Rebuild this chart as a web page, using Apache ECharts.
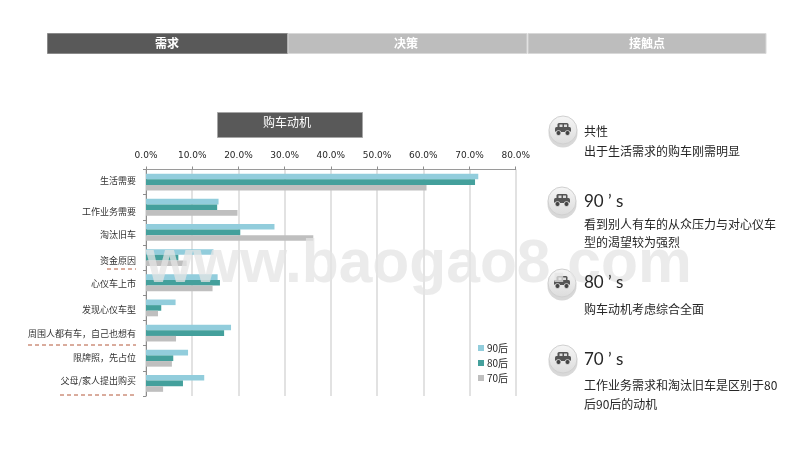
<!DOCTYPE html>
<html><head><meta charset="utf-8">
<style>html,body{margin:0;padding:0;background:#fff}#c{width:800px;height:450px}</style>
<script src="https://cdn.jsdelivr.net/npm/echarts@6/dist/echarts.min.js"></script>
</head><body><div id="c"></div>
<script>
const categories = ['生活需要','工作业务需要','淘汰旧车','资金原因','心仪车上市','发现心仪车型','周围人都有车，自己也想有','限牌照，先占位','父母/家人提出购买'];
const series90 = [71.9,15.7,27.8,14.6,15.5,6.4,18.4,9.1,12.6];
const series80 = [71.2,15.4,20.4,7.0,16.0,3.3,16.9,5.9,8.0];
const series70 = [60.7,19.8,36.2,8.8,14.4,2.6,6.5,5.6,3.7];
const tabs = ['需求','决策','接触点'];
const chartTitle = '购车动机';
const labelNudge = [-2,4,2,3,1,2,0,-1,-3];
const FONT = '"Noto Sans CJK SC","DejaVu Sans",sans-serif';
const TXT = '#262626';

function rect(x,y,w,h,fill,stroke){return {type:'rect',shape:{x,y,width:w,height:h},style:{fill,stroke:stroke||null,lineWidth:stroke?1:0},z:5};}
function txt(x,y,t,size,color,extra){return {type:'text',x,y,z:6,style:Object.assign({text:t,fill:color||TXT,font:size+'px '+FONT,textVerticalAlign:'middle',textAlign:'left'},extra||{})};}
function dash(x1,x2,y){return {type:'line',shape:{x1,y1:y,x2,y2:y},style:{stroke:'#b4583a',lineWidth:1,lineDash:[4,3]},z:6};}
function icon(cx,cy){
  return {type:'group',x:cx,y:cy,z:7,children:[
    {type:'circle',shape:{cx:0,cy:3,r:14.5},style:{fill:'#c8c8c8',opacity:.7}},
    {type:'circle',shape:{cx:0,cy:0,r:14},style:{fill:{type:'linear',x:0,y:0,x2:0,y2:1,colorStops:[{offset:0,color:'#f6f6f6'},{offset:1,color:'#dcdcdc'}]},stroke:'#d0d0d0',lineWidth:1}},
    {type:'rect',shape:{x:-8,y:-3,width:16,height:5,r:1.5},style:{fill:'#555'}},
    {type:'rect',shape:{x:-5.5,y:-7,width:11,height:5,r:1.5},style:{fill:'#555'}},
    {type:'rect',shape:{x:-3.5,y:-5.5,width:3,height:2.5},style:{fill:'#ddd'}},
    {type:'rect',shape:{x:1,y:-5.5,width:3,height:2.5},style:{fill:'#ddd'}},
    {type:'circle',shape:{cx:-4.5,cy:3,r:2.5},style:{fill:'#444',stroke:'#e6e6e6',lineWidth:.8}},
    {type:'circle',shape:{cx:4.5,cy:3,r:2.5},style:{fill:'#444',stroke:'#e6e6e6',lineWidth:.8}}
  ]};
}
function big(x,y,t){return {type:'text',x,y,z:6,style:{text:t,fill:TXT,font:'17px Lato,"Open Sans",sans-serif',textVerticalAlign:'middle'}};}

const labelRich = {};
labelNudge.forEach((n,i)=>{
  labelRich['n'+i] = {fontSize:9,color:'#333',fontFamily:FONT,padding:n>=0?[2*n,0,0,0]:[0,0,-2*n,0]};
});

const chart = echarts.init(document.getElementById('c'),null,{renderer:'canvas'});
function bar(name,data,color){
  return {name,type:'bar',data,barWidth:5.6,barGap:'0%',itemStyle:{color},z:2};
}
chart.setOption({
  animation:false,
  backgroundColor:'#fff',
  grid:{left:146,right:284.3,top:169.5,bottom:54},
  xAxis:{type:'value',position:'top',min:0,max:80,interval:10,
    axisLine:{show:true,lineStyle:{color:'#9a9a9a',width:1}},
    axisTick:{show:true,length:3,lineStyle:{color:'#8c8c8c'}},
    splitLine:{show:true,lineStyle:{color:'#d9d9d9',width:1.5}},
    axisLabel:{formatter:v=>v.toFixed(1)+'%',color:'#262626',fontSize:9,margin:9,fontFamily:'"DejaVu Sans"'}},
  yAxis:{type:'category',inverse:true,data:categories,
    axisLine:{show:true,onZero:false,lineStyle:{color:'#8c8c8c',width:1}},
    axisTick:{show:true,length:3,lineStyle:{color:'#8c8c8c'}},
    axisLabel:{color:'#333',fontSize:9,margin:10,fontFamily:FONT,interval:0,
      formatter:(v,i)=>'{n'+i+'|'+v+'}',rich:labelRich}},
  legend:{orient:'vertical',left:473,top:338,itemWidth:6,itemHeight:6,itemGap:5,icon:'rect',
    textStyle:{fontSize:10,color:'#262626',padding:[0,0,0,-2],fontFamily:FONT},
    data:['90后','80后','70后']},
  series:[bar('90后',series90,'#92cddc'),bar('80后',series80,'#44a09c'),bar('70后',series70,'#bfbfbf')],
  graphic:[
    rect(47.5,33.5,240,20,'#595959','#8a8a8a'),
    rect(288,33.5,239,20,'#bdbdbd','#d8d8d8'),
    rect(528,33.5,238,20,'#bdbdbd','#d8d8d8'),
    txt(167,43.5,tabs[0],12,'#fff',{textAlign:'center',font:'bold 12px '+FONT}),
    txt(406,43.5,tabs[1],12,'#fff',{textAlign:'center',font:'bold 12px '+FONT}),
    txt(647,43.5,tabs[2],12,'#fff',{textAlign:'center',font:'bold 12px '+FONT}),
    rect(217.5,112.5,145,25,'#595959','#a6a6a6'),
    txt(287,122,chartTitle,12,'#fff',{textAlign:'center'}),
    dash(107,136,269), dash(28,136,345), dash(60,136,395),
    {type:'text',x:146,y:265,z:5.5,silent:true,style:{text:'www.baogao8.com',fill:'rgba(228,228,228,0.75)',font:'bold 60.5px "Liberation Sans",Arial,sans-serif',textVerticalAlign:'middle'}},
    icon(563,130), icon(562,201), icon(562,283), icon(563,359),
    txt(584,131,'共性',12),
    txt(584,151,'出于生活需求的购车刚需明显',12),
    big(584,202,'90 ’ s'),
    txt(584,224,'看到别人有车的从众压力与对心仪车',12),
    txt(584,242,'型的渴望较为强烈',12),
    big(584,283,'80 ’ s'),
    txt(584,309,'购车动机考虑综合全面',12),
    big(584,360,'70 ’ s'),
    txt(584,385,'工作业务需求和淘汰旧车是区别于80',12),
    txt(584,404,'后90后的动机',12)
  ]
});
</script></body></html>
